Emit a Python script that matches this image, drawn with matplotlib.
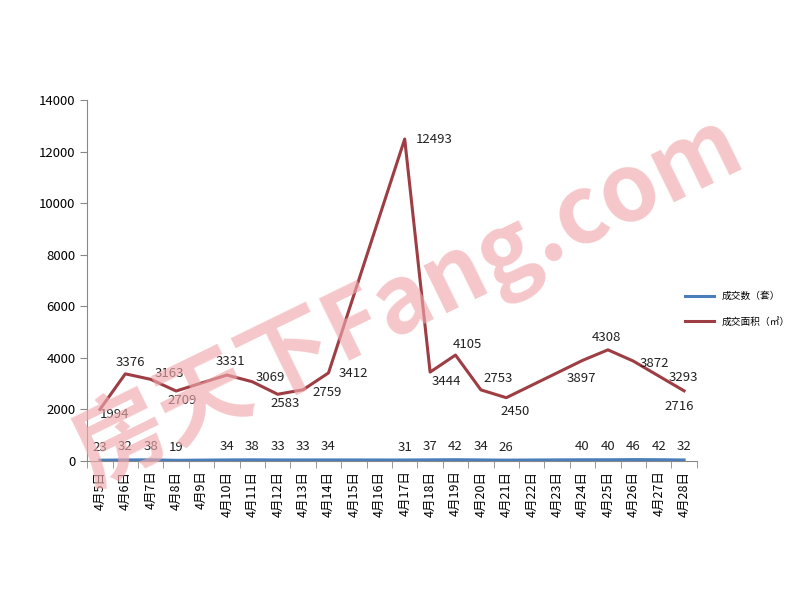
import numpy as np
import matplotlib.pyplot as plt

plt.rcParams['font.family'] = ['Noto Sans CJK SC', 'DejaVu Sans']

days = [f'4月{d}日' for d in range(5, 29)]
nan = np.nan
units = [23, 32, 38, 19, nan, 34, 38, 33, 33, 34, nan, nan,
         31, 37, 42, 34, 26, nan, nan, 40, 40, 46, 42, 32]
area = [1994, 3376, 3163, 2709, nan, 3331, 3069, 2583, 2759, 3412, nan, nan,
        12493, 3444, 4105, 2753, 2450, nan, nan, 3897, 4308, 3872, 3293, 2716]

# label placement for the area series, in pixels from the point
area_lab_off = [(15, -5), (5, 11), (19, 6), (6, -9), None, (3, 14), (18, 4),
                (7, -9), (24, -3), (25, -1), None, None, (30, 0), (16, -9),
                (12, 11), (17, 11), (9, -14), None, None, (-1, -18), (-1, 12),
                (21, -2), (25, -2), (-5, -16)]

blue = '#4A7EBB'
red = '#9E3D44'

fig = plt.figure(figsize=(8, 6), dpi=100)
ax = fig.add_axes([0.109, 0.232, 0.762, 0.601])

# watermark
fig.text(0.51, 0.5, '房天下Fang.com', fontsize=67, color='#F0A9AD', alpha=0.65,
         rotation=26, ha='center', va='center', fontweight='bold', zorder=0,
         style='italic')
ax.set_facecolor('none')

x = np.arange(len(days))
u = np.array(units, dtype=float)
a = np.array(area, dtype=float)
mu = ~np.isnan(u)
ma = ~np.isnan(a)
ax.plot(x[mu], u[mu], color=blue, lw=2.2, label='成交数（套）', zorder=3)
ax.plot(x[ma], a[ma], color=red, lw=2.2, label='成交面积（㎡）', zorder=3)

for xi, v in zip(x[mu], u[mu]):
    ax.annotate(f'{int(v)}', (xi, v), xytext=(0, 13), textcoords='offset pixels',
                ha='center', va='center', fontsize=9.5, color='#222222')
for xi, v, off in zip(x, a, area_lab_off):
    if np.isnan(v):
        continue
    ax.annotate(f'{int(v)}', (xi, v), xytext=off, textcoords='offset pixels',
                ha='center', va='center', fontsize=9.5, color='#222222')

ax.set_xlim(-0.5, len(days) - 0.5)
ax.set_ylim(0, 14000)
ax.set_yticks(np.arange(0, 14001, 2000))
ax.set_xticks(x)
ax.set_xticklabels(days, rotation=90, fontsize=9)
ax.set_xticks(np.arange(-0.5, len(days), 1), minor=True)
ax.tick_params(axis='x', which='major', length=0, pad=7)
ax.tick_params(axis='x', which='minor', length=5, color='#888888')
ax.tick_params(axis='y', length=5, color='#888888', labelsize=9.5)
for s in ['top', 'right']:
    ax.spines[s].set_visible(False)
for s in ['left', 'bottom']:
    ax.spines[s].set_color('#888888')

fig.legend(loc='center left', bbox_to_anchor=(0.845, 0.485), frameon=False,
           fontsize=7, handlelength=3, labelspacing=1.6)

fig.savefig('out.png', dpi=100)
